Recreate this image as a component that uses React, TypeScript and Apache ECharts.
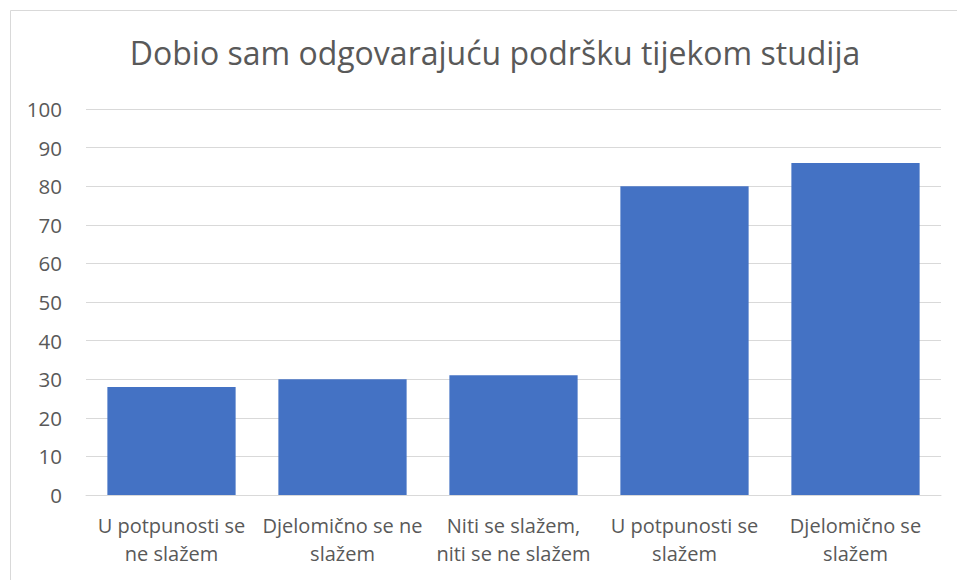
import React, { useEffect, useRef } from "react";
import * as echarts from "echarts";

const titleText = "Dobio sam odgovarajuću podršku tijekom studija";
const categories = [
  "U potpunosti se\nne slažem",
  "Djelomično se ne\nslažem",
  "Niti se slažem,\nniti se ne slažem",
  "U potpunosti se\nslažem",
  "Djelomično se\nslažem",
];
const values = [28, 30, 31, 80, 86];

const FONT = "Open Sans";
const TEXT = "#595959";

export default function App() {
  const ref = useRef<HTMLDivElement>(null);
  useEffect(() => {
    if (!ref.current) return;
    const chart = echarts.init(ref.current, undefined, { renderer: "svg" });
    chart.setOption({
      animation: false,
      backgroundColor: "#ffffff",
      textStyle: { fontFamily: FONT },
      title: {
        text: titleText,
        left: 490,
        textAlign: "center",
        top: 31,
        textStyle: { fontFamily: FONT, fontSize: 32, fontWeight: "normal", color: TEXT },
      },
      graphic: [
        {
          type: "rect",
          shape: { x: 10.5, y: 10.5, width: 1000, height: 700 },
          style: { fill: "none", stroke: "#D9D9D9", lineWidth: 1 },
          silent: true,
        },
      ],
      grid: { left: 86, right: 16, top: 109, bottom: 85, containLabel: false },
      xAxis: {
        type: "category",
        data: categories,
        axisLine: { show: true, lineStyle: { color: "#D9D9D9", width: 1 } },
        axisTick: { show: false },
        axisLabel: {
          color: TEXT,
          fontFamily: FONT,
          fontSize: 20,
          lineHeight: 28,
          margin: 16,
          interval: 0,
        },
      },
      yAxis: {
        type: "value",
        min: 0,
        max: 100,
        interval: 10,
        axisLine: { show: false },
        axisTick: { show: false },
        splitLine: { lineStyle: { color: "#D9D9D9", width: 1 } },
        axisLabel: { color: TEXT, fontFamily: FONT, fontSize: 20.5, margin: 24 },
      },
      series: [
        {
          type: "bar",
          data: values,
          barWidth: "75%",
          itemStyle: { color: "#4472C4" },
        },
      ],
    });
    return () => chart.dispose();
  }, []);
  return (
    <div
      ref={ref}
      style={{ position: "fixed", left: 0, top: 0, width: 957, height: 580 }}
    />
  );
}
